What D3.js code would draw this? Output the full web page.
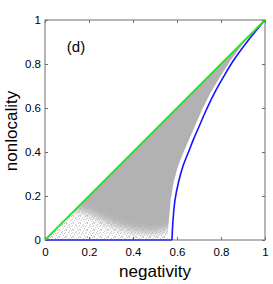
<!DOCTYPE html>
<html>
<head>
<meta charset="utf-8">
<script src="https://cdn.jsdelivr.net/npm/d3@7"></script>
<style>
  body { margin: 0; background: #fff; }
  text { font-family: "Liberation Sans", Arial, sans-serif; fill: #000; }
</style>
</head>
<body>
<div id="chart"></div>
<script>
// tick values on both axes
var ticks = [0, 0.2, 0.4, 0.6, 0.8, 1];
var tickLabels = ["0", "0.2", "0.4", "0.6", "0.8", "1"];

// upper bound (green): nonlocality = negativity
var upperNeg = [0, 1];
var upperNonloc = [0, 1];

// lower bound (blue)
var floorNeg = [0, 0.577];
var floorNonloc = [0, 0];
var lowerNeg = [0.577, 0.582, 0.591, 0.606, 0.626, 0.656, 0.674, 0.700, 0.733, 0.770, 0.808, 0.858, 0.925, 1];
var lowerNonloc = [0, 0.091, 0.182, 0.259, 0.332, 0.409, 0.455, 0.515, 0.591, 0.668, 0.736, 0.818, 0.909, 1];

// outline of the grey cloud of sampled states (right / bottom edge)
var cloudNeg = [1, 0.912, 0.845, 0.792, 0.752, 0.713, 0.68, 0.634, 0.603, 0.584, 0.571, 0.563, 0.558, 0.555, 0];
var cloudNonloc = [1, 0.909, 0.818, 0.736, 0.668, 0.591, 0.515, 0.409, 0.332, 0.259, 0.182, 0.091, 0.03, 0, 0];

// outline of the denser core of the cloud (clipped to the cloud)
var denseNeg = [0.0, 0.9, 1.2, 1.2, 0.7, 0.6, 0.5, 0.4, 0.3, 0.2, 0.1];
var denseNonloc = [0.2, 1.15, 1.2, 0.3, 0.15, 0.06, 0.03, 0.04, 0.07, 0.12, 0.15];

var margin = {top: 20, right: 8, bottom: 44, left: 45},
    width = 220,
    height = 220;

var svg = d3.select("#chart")
  .append("svg")
    .attr("width", 273)
    .attr("height", 284);

var defs = svg.append("defs");

// speckle texture for the sparse part of the cloud
var pat = defs.append("pattern")
  .attr("id", "speckle")
  .attr("width", 7).attr("height", 7)
  .attr("patternUnits", "userSpaceOnUse");
[[0,0],[3,1],[5,3],[1,4],[4,5],[6,6],[2,2],[0,6],[5,0],[3,3],[6,2]].forEach(function(p) {
  pat.append("rect").attr("x", p[0]).attr("y", p[1])
    .attr("width", 1).attr("height", 1).attr("fill", "#c8c8c8");
});

defs.append("filter").attr("id", "soft")
  .attr("x", "-20%").attr("y", "-20%").attr("width", "140%").attr("height", "140%")
  .append("feGaussianBlur").attr("stdDeviation", 4);

var g = svg.append("g")
  .attr("transform", "translate(" + margin.left + "," + margin.top + ")");

var x = d3.scaleLinear().domain([0, 1]).range([0, width]);
var y = d3.scaleLinear().domain([0, 1]).range([height, 0]);

function pts(xs, ys) {
  return xs.map(function(v, i) { return [v, ys[i]]; });
}

var line = d3.line()
  .x(function(d) { return x(d[0]); })
  .y(function(d) { return y(d[1]); });

var smooth = d3.line()
  .x(function(d) { return x(d[0]); })
  .y(function(d) { return y(d[1]); })
  .curve(d3.curveMonotoneY);

// cloud: outer outline along the green line then back down the right edge
var outer = pts(upperNeg, upperNonloc).concat(pts(cloudNeg, cloudNonloc));

defs.append("clipPath").attr("id", "cloudClip")
  .append("path").attr("d", line(outer) + "Z");

g.append("path")
  .attr("d", line(outer) + "Z")
  .attr("fill", "url(#speckle)");

g.append("g")
  .attr("clip-path", "url(#cloudClip)")
  .append("path")
    .attr("d", line(pts(denseNeg, denseNonloc)) + "Z")
    .attr("fill", "#b2b2b2")
    .attr("filter", "url(#soft)");

// frame
g.append("rect")
  .attr("width", width).attr("height", height)
  .attr("fill", "none").attr("stroke", "#6e6e6e").attr("stroke-width", 1);

// axes with inward ticks
var xAxis = d3.axisBottom(x).tickValues(ticks).tickSize(-3).tickPadding(8)
  .tickFormat(function(d, i) { return tickLabels[i]; });
var yAxis = d3.axisLeft(y).tickValues(ticks).tickSize(-3).tickPadding(4)
  .tickFormat(function(d, i) { return tickLabels[i]; });

g.append("g").attr("transform", "translate(0," + height + ")").call(xAxis);
g.append("g").call(yAxis);
g.append("g").call(d3.axisTop(x).tickValues(ticks).tickSize(-3).tickFormat(""));
g.append("g").attr("transform", "translate(" + width + ",0)")
  .call(d3.axisRight(y).tickValues(ticks).tickSize(-3).tickFormat(""));

g.selectAll(".domain").remove();
g.selectAll(".tick line").attr("stroke", "#6e6e6e");
g.selectAll(".tick text")
  .style("font-family", "'Liberation Sans', Arial, sans-serif")
  .style("font-size", "11.5px")
  .attr("fill", "#000");

// bounds
g.append("path")
  .attr("d", line(pts(floorNeg, floorNonloc)))
  .attr("fill", "none").attr("stroke", "#3030f0").attr("stroke-width", 1.6);

g.append("path")
  .attr("d", smooth(pts(lowerNeg, lowerNonloc)))
  .attr("fill", "none").attr("stroke", "#1414ff").attr("stroke-width", 1.6);

g.append("path")
  .attr("d", line(pts(upperNeg, upperNonloc)))
  .attr("fill", "none").attr("stroke", "#22e622").attr("stroke-width", 1.8);

// labels
svg.append("text")
  .attr("x", margin.left + width / 2)
  .attr("y", 277)
  .attr("text-anchor", "middle")
  .style("font-size", "17px")
  .text("negativity");

svg.append("text")
  .attr("transform", "translate(17," + (margin.top + height / 2 + 1) + ") rotate(-90)")
  .attr("text-anchor", "middle")
  .style("font-size", "17px")
  .text("nonlocality");

svg.append("text")
  .attr("x", 76)
  .attr("y", 52)
  .attr("text-anchor", "middle")
  .style("font-size", "15px")
  .text("(d)");
</script>
</body>
</html>
